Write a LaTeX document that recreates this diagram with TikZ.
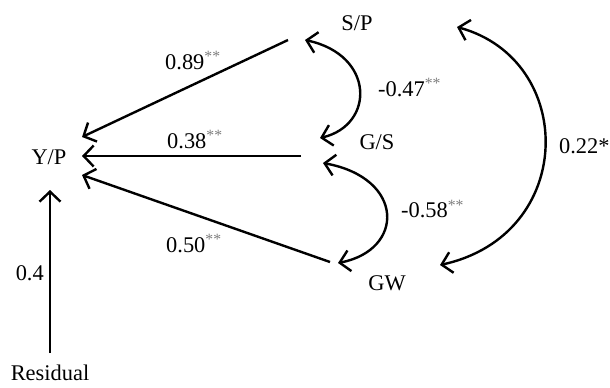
\documentclass[tikz,border=0pt]{standalone}
\usepackage{fontspec}
\setmainfont{Liberation Serif}
\usetikzlibrary{arrows.meta, positioning}
\definecolor{sigcolor}{RGB}{125,125,125}
\newcommand{\sig}[1]{\textsuperscript{\color{sigcolor}#1}}
\tikzset{
  var/.style={inner sep=0pt, font=\fontsize{22.5}{27}\selectfont},
  coef/.style={inner sep=0pt, anchor=base west,
               font=\fontsize{22.5}{27}\selectfont},
  arrow/.style={-{Straight Barb[length=10bp,width=21bp]},
                line width=2.4bp},
  corr/.style={{Straight Barb[length=10bp,width=21bp]}-{Straight Barb[length=10bp,width=21bp]},
               line width=2.4bp}
}
\begin{document}
\begin{tikzpicture}[x=1bp, y=-1bp]
  \useasboundingbox (0,0) rectangle (610,387);

  %% variables
  \node[var] (yp)  at (49,157)  {Y/P};
  \node[var] (sp)  at (357,23)  {S/P};
  \node[var] (gs)  at (377,142) {G/S};
  \node[var] (gw)  at (387,283) {GW};
  \node[var] (res) at (50,373)  {Residual};

  %% direct paths into Y/P
  \draw[arrow] ([shift={(-69,17)}]sp.center) -- ([shift={(33,-20)}]yp.center)
    node[coef, pos=0.5, shift={(-21,-19.5)}] {0.89\sig{**}};
  \draw[arrow] ([shift={(-76,14)}]gs.center) -- ([shift={(33,-1)}]yp.center)
    node[coef, pos=0.5, shift={(-25.5,-8)}] {0.38\sig{**}};
  \draw[arrow] ([shift={(-57,-21)}]gw.center) -- ([shift={(33,18)}]yp.center)
    node[coef, pos=0.5, shift={(-41,33.5)}] {0.50\sig{**}};
  \draw[arrow] ([shift={(0,-20)}]res.center) -- ([shift={(1,33)}]yp.center)
    node[coef, anchor=base east, pos=0.5, shift={(-5,8.5)}] {0.4};

  %% correlations
  \draw[corr] ([shift={(-52,17)}]sp.center) .. controls +(70,15) and +(55,-13)
    .. ([shift={(-57,-4)}]gs.center)
    node[coef, pos=0.5, shift={(17.6,6.25)}] {-0.47\sig{**}};
  \draw[corr] ([shift={(-54,21)}]gs.center) .. controls +(82,15) and +(67,-13)
    .. ([shift={(-49,-20)}]gw.center)
    node[coef, pos=0.5, shift={(13.6,4.2)}] {-0.58\sig{**}};
  \draw[corr] ([shift={(100,4)}]sp.center) .. controls +(120,33) and +(137,-30)
    .. ([shift={(53,-18)}]gw.center)
    node[coef, pos=0.5, shift={(13,6)}] {0.22*};

\end{tikzpicture}
\end{document}
